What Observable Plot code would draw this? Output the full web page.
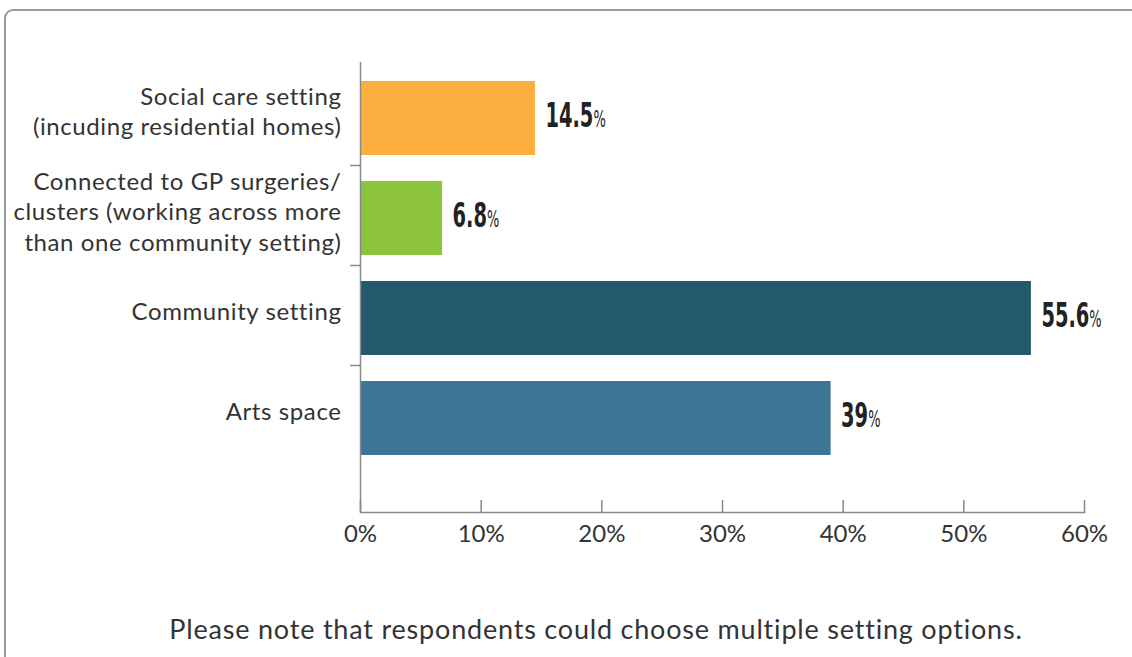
<!DOCTYPE html>
<html><head><meta charset="utf-8">
<script src="https://cdn.jsdelivr.net/npm/d3@7"></script>
<script src="https://cdn.jsdelivr.net/npm/@observablehq/plot@0.6"></script>
<style>
body{margin:0;background:#fff;width:1132px;height:657px;overflow:hidden;position:relative;font-family:Lato,sans-serif;}
#box{position:absolute;left:4px;top:9px;width:1160px;height:700px;border:2px solid #9a9a9a;border-radius:9px;box-sizing:border-box;}
#chart{position:absolute;left:0;top:0;}
#caption{position:absolute;left:0;top:613px;width:1192px;text-align:center;font-size:27px;letter-spacing:0.8px;line-height:32px;color:#333;font-family:Lato,sans-serif;}
.vlab text{font-stretch:condensed;}
</style></head>
<body>
<div id="box"></div>
<div id="chart"></div>
<div id="caption">Please note that respondents could choose multiple setting options.</div>
<script>
const categories = ["Social care setting", "Connected to GP surgeries", "Community setting", "Arts space"];
const labels = ["Social care setting\n(incuding residential homes)", "Connected to GP surgeries/\nclusters (working across more\nthan one community setting)", "Community setting", "Arts space"];
const values = [14.5, 6.8, 55.6, 39];
const colors = ["#FCAF3F", "#8CC43F", "#225A6C", "#3D7596"];
const xTicks = [0, 10, 20, 30, 40, 50, 60];

const data = categories.map((c, i) => ({category: c, label: labels[i], value: values[i], color: colors[i]}));

const chart = Plot.plot({
  width: 1132, height: 560,
  marginTop: 62, marginBottom: 48, marginLeft: 360, marginRight: 48,
  style: {fontFamily: "Lato, sans-serif", color: "#333", background: "transparent", overflow: "visible"},
  x: {domain: [0, 60], ticks: xTicks},
  y: {domain: categories, range: [66, 466], paddingInner: 0.26, paddingOuter: 0.13},
  color: {type: "identity"},
  marks: [
    Plot.barX(data, {x: "value", y: "category", fill: "color", dy: 2}),
    Plot.ruleX([0], {stroke: "#888", strokeWidth: 1.5}),
    Plot.frame({anchor: "bottom", stroke: "#888", strokeWidth: 1.5}),
    Plot.tickX(xTicks, {x: d => d, insetTop: 438, stroke: "#888", strokeWidth: 1.5}),
    Plot.axisX({ticks: xTicks, tickSize: 0, tickPadding: 12, tickFormat: d => d + "%", fontSize: 24, fill: "#333", label: null}),
    Plot.axisY({ticks: categories.slice(1), tickSize: 10, tickFormat: () => "", dy: -51, stroke: "#888", strokeWidth: 1.5, label: null}),
    Plot.text(data, {x: 0, y: "category", text: "label", textAnchor: "end", dx: -19, dy: -6, fontSize: 24, lineHeight: 1.27, fill: "#333"}),
    Plot.text(data, {x: "value", y: "category", text: d => String(d.value), textAnchor: "start", dx: 10, dy: -1, fontSize: 30, fontWeight: "bold", fontFamily: "DejaVu Sans Condensed, DejaVu Sans, sans-serif", fill: "#222"})
  ]
});
document.getElementById("chart").appendChild(chart);

const groups = chart.querySelectorAll('g[aria-label="text"]');
groups[groups.length - 2].setAttribute("letter-spacing", "0.6");
const valG = groups[groups.length - 1];
valG.setAttribute("class", "vlab");
valG.querySelectorAll("text").forEach(t => {
  const ts = document.createElementNS("http://www.w3.org/2000/svg", "tspan");
  ts.setAttribute("font-size", "20");
  ts.setAttribute("font-weight", "normal");
  ts.textContent = "%";
  t.appendChild(ts);
  const tr = t.getAttribute("transform");
  if (tr) {
    t.setAttribute("transform", tr + " scale(0.72,1.15)");
  } else {
    const x = +t.getAttribute("x") || 0, y = +t.getAttribute("y") || 0;
    t.removeAttribute("x"); t.removeAttribute("y");
    t.setAttribute("transform", `translate(${x},${y}) scale(0.72,1.15)`);
  }
});
</script>
</body></html>
